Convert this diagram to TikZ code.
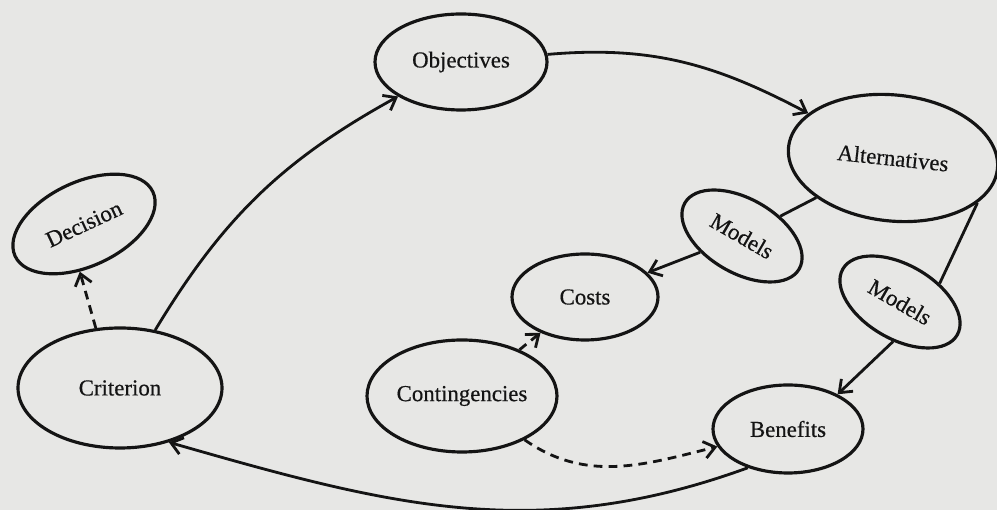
\documentclass[tikz,border=0pt]{standalone}
\usepackage{fontspec}
\setmainfont{Liberation Serif}
\newfontfamily\labelfont{Liberation Serif}[FakeBold=0.5]
\usepackage{tikz}
\usetikzlibrary{shapes.geometric, arrows.meta}

\definecolor{paper}{RGB}{231,231,229}
\definecolor{ink}{RGB}{20,20,20}

\tikzset{
  bubble/.style={ellipse, draw=ink, line width=1.8pt, inner sep=0pt,
    text=ink, font=\labelfont\fontsize{13}{15}\selectfont},
  arr/.style={draw=ink, line width=1.6pt,
    -{Straight Barb[length=2.2mm,width=3.4mm]}},
  dasharr/.style={arr, dash pattern=on 5pt off 3.5pt},
  link/.style={draw=ink, line width=1.6pt}
}

\begin{document}
\begin{tikzpicture}
\fill[paper] (0,0) rectangle (19.94,10.2);
\useasboundingbox (0,0) rectangle (19.94,10.2);

% ellipses
\node[bubble, minimum width=3.44cm, minimum height=1.92cm] (obj) at (9.22, 8.96) {Objectives};
\node[bubble, minimum width=4.2cm, minimum height=2.52cm, rotate=-6] (alt) at (17.86, 7.04) {Alternatives};
\node[bubble, minimum width=2.64cm, minimum height=1.48cm, rotate=-30] (mod1) at (14.84, 5.48) {Models};
\node[bubble, minimum width=2.64cm, minimum height=1.48cm, rotate=-30] (mod2) at (18.00, 4.16) {Models};
\node[bubble, minimum width=2.92cm, minimum height=1.72cm] (costs) at (11.70, 4.26) {Costs};
\node[bubble, minimum width=3.8cm, minimum height=2.24cm] (cont) at (9.24, 2.28) {Contingencies};
\node[bubble, minimum width=3.0cm, minimum height=1.76cm] (ben) at (15.76, 1.62) {Benefits};
\node[bubble, minimum width=4.08cm, minimum height=2.4cm] (crit) at (2.40, 2.44) {Criterion};
\node[bubble, minimum width=3.04cm, minimum height=1.68cm, rotate=25] (dec) at (1.68, 5.72) {Decision};

% connectors
\draw[arr] (crit) to[bend left=15] (obj);
\draw[arr] (obj) to[out=5, in=155] (alt);
\draw[link] (alt) -- (mod1);
\draw[arr] (mod1) -- (costs);
\draw[link] (alt.-22) -- (mod2.55);
\draw[arr] (mod2.-70) -- (ben.35);
\draw[dasharr] (cont) -- (costs);
\draw[dasharr] (cont) to[out=-35, in=194] (ben);
\draw[arr] (ben.224) to[out=200, in=-16] (crit.-48);
\draw[dasharr] (crit.112) -- (dec.-120);
\end{tikzpicture}
\end{document}
